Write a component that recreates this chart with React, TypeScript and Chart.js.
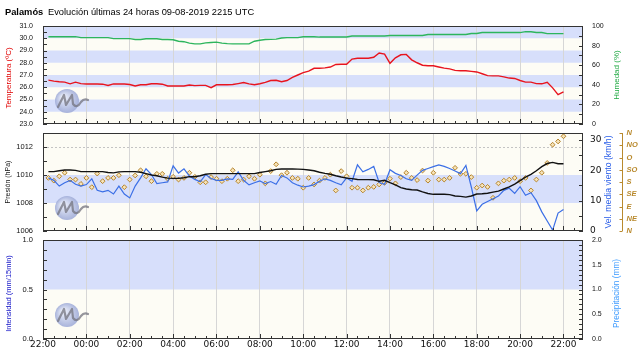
import React, { useEffect, useRef } from 'react';
import { Chart, registerables } from 'chart.js';

Chart.register(...registerables);

// ---------------- data ----------------
const START_HOUR = 22; // x = 0 -> 22:00 of the previous day
const FIRST_SAMPLE_H = 0.25; // first sample at 22:15
const SAMPLE_STEP_H = 0.25; // one sample every 15 min
const X_MAX_H = 24.9;

const headerStation = 'Palamós';
const headerText = 'Evolución últimas 24 horas 09-08-2019 2215 UTC';

const xTickHours = [0, 2, 4, 6, 8, 10, 12, 14, 16, 18, 20, 22, 24];

const temperature = [
  26.58, 26.5, 26.45, 26.42, 26.28, 26.42, 26.3, 26.27, 26.27, 26.27, 26.25, 26.15,
  26.27, 26.27, 26.27, 26.22, 26.1, 26.2, 26.2, 26.29, 26.29, 26.25, 26.1, 26.1,
  26.1, 26.1, 26.18, 26.13, 26.15, 26.15, 25.96, 26.2, 26.2, 26.2, 26.22, 26.3,
  26.39, 26.28, 26.2, 26.29, 26.4, 26.55, 26.57, 26.45, 26.55, 26.8, 27.0, 27.2,
  27.32, 27.55, 27.55, 27.58, 27.65, 27.86, 27.88, 27.88, 28.3, 28.37, 28.37, 28.37,
  28.45, 28.8, 28.7, 27.95, 28.4, 28.65, 28.68, 28.24, 28.0, 27.8, 27.75, 27.75,
  27.65, 27.56, 27.5, 27.38, 27.35, 27.35, 27.3, 27.25, 27.1, 26.95, 26.93, 26.93,
  26.85, 26.75, 26.72, 26.55, 26.42, 26.42, 26.3, 26.28, 26.4, 25.95, 25.4, 25.62,
];

const humidity = [
  89.1, 89.1, 89.1, 89.1, 89.1, 89.1, 88.1, 88.1, 88.1, 88.1, 88.1, 88.1,
  87.1, 87.1, 87.1, 87.1, 86.2, 86.2, 87.0, 87.0, 87.0, 86.2, 86.2, 86.0,
  84.5, 84.0, 82.5, 81.8, 81.8, 82.8, 83.2, 83.5, 82.5, 82.0, 81.8, 81.8,
  81.8, 81.8, 84.5, 85.5, 86.2, 86.4, 86.6, 87.8, 88.1, 88.1, 88.1, 89.0,
  89.0, 89.0, 88.7, 88.7, 88.7, 88.7, 88.7, 88.8, 89.8, 89.8, 89.8, 89.8,
  89.8, 89.8, 89.8, 90.3, 90.3, 90.3, 90.3, 90.3, 90.3, 90.3, 91.3, 91.3,
  91.3, 91.3, 91.3, 91.3, 91.3, 91.3, 92.4, 92.4, 93.3, 93.3, 93.3, 93.3,
  93.3, 93.3, 93.3, 93.3, 94.2, 94.2, 93.4, 93.4, 92.2, 92.2, 92.2, 92.2,
];

const pressure = [
  1010.24, 1010.24, 1010.3, 1010.36, 1010.36, 1010.33, 1010.24, 1010.24, 1010.24, 1010.24, 1010.24, 1010.18,
  1010.15, 1010.22, 1010.24, 1010.24, 1010.24, 1010.2, 1010.1, 1010.0, 1009.95, 1009.85, 1009.78, 1009.76,
  1009.76, 1009.8, 1009.88, 1009.88, 1009.95, 1010.05, 1010.1, 1010.1, 1010.1, 1010.1, 1010.1, 1010.1,
  1010.1, 1010.1, 1010.1, 1010.18, 1010.24, 1010.3, 1010.4, 1010.43, 1010.43, 1010.43, 1010.42, 1010.4,
  1010.36, 1010.3, 1010.2, 1010.12, 1010.05, 1009.95, 1009.86, 1009.78, 1009.74, 1009.68, 1009.67, 1009.67,
  1009.66, 1009.55, 1009.62, 1009.45, 1009.3, 1009.1, 1009.0, 1008.95, 1008.93, 1008.8, 1008.68, 1008.62,
  1008.62, 1008.62, 1008.6, 1008.5, 1008.47, 1008.42, 1008.5, 1008.64, 1008.66, 1008.7, 1008.78, 1008.85,
  1009.0, 1009.15, 1009.35, 1009.6, 1009.85, 1010.05, 1010.3, 1010.6, 1010.82, 1010.9, 1010.8, 1010.8,
];

const windSpeed = [
  17.5, 16.7, 14.8, 15.9, 16.7, 15.4, 14.8, 15.3, 17.2, 13.4, 12.9, 13.4,
  12.2, 14.8, 12.2, 10.9, 14.8, 17.5, 20.5, 18.6, 15.6, 15.9, 16.2, 21.5,
  19.1, 20.5, 18.1, 17.0, 16.2, 18.6, 17.3, 16.7, 16.7, 17.2, 17.0, 19.5,
  16.7, 15.2, 15.9, 16.5, 15.6, 16.3, 15.4, 18.3, 17.5, 15.9, 15.1, 14.5,
  14.8, 15.3, 16.4, 17.2, 16.7, 15.9, 15.2, 17.5, 16.4, 21.8, 19.5, 20.3,
  21.3, 16.0, 15.4, 20.2, 19.0, 18.3, 17.2, 16.7, 18.4, 20.0, 20.6, 21.2,
  21.8, 21.3, 20.6, 19.8, 18.9, 21.6, 14.5, 6.6, 8.8, 9.7, 10.6, 11.5,
  13.4, 14.1, 12.4, 14.6, 11.8, 12.6, 10.0, 6.3, 3.3, 0.3, 5.9, 7.1,
];

const windDirection = [
  195, 185, 201, 214, 189, 189, 173, 195, 161, 211, 183, 195,
  195, 205, 161, 189, 204, 223, 201, 183, 210, 210, 192, 199,
  189, 195, 214, 199, 179, 179, 198, 192, 183, 192, 223, 183,
  189, 201, 192, 207, 175, 220, 245, 205, 214, 195, 192, 159,
  195, 171, 185, 195, 207, 149, 220, 201, 159, 159, 149, 159,
  162, 171, 177, 192, 175, 198, 214, 195, 187, 222, 185, 214,
  189, 189, 195, 232, 210, 210, 198, 159, 167, 162, 122, 175,
  185, 189, 195, 183, 195, 149, 189, 214, 250, 317, 329, 348,
];

const rainIntensity: number[] = [];
const rainTotal: number[] = [];

const tempTicks = [23, 24, 25, 26, 27, 28, 29, 30, 31];
const humTicks = [0, 20, 40, 60, 80, 100];
const presTicks = [1006, 1008, 1010, 1012];
const windTicks = [0, 10, 20, 30];
const dirTicks = [0, 45, 90, 135, 180, 225, 270, 315, 360];
const dirNames = ['N', 'NE', 'E', 'SE', 'S', 'SO', 'O', 'NO', 'N'];
const intTicks = [0, 0.5, 1];
const precTicks = [0, 0.5, 1, 1.5, 2];

// ---------------- style ----------------
const CREAM = '#fdfcf5';
const BAND = '#d7dffb';
const GRID = '#d6d6d6';
const AXIS = '#333333';
const DIR_COLOR = '#b98a2e';
const LEFT_W = 43;
const RIGHT_W = 57;
const SANS = '"Liberation Sans", Arial, sans-serif';

const sampleTimes = temperature.map((_, i) => FIRST_SAMPLE_H + i * SAMPLE_STEP_H);
const pts = (vals: number[]) => vals.map((v, i) => ({ x: sampleTimes[i], y: v }));

function steps(a: number, b: number, s: number) {
  const out: number[] = [];
  for (let v = a; v <= b + 1e-9; v += s) out.push(Math.round(v * 1000) / 1000);
  return out;
}
const xMinor = steps(0, 24.5, 0.5);

const hourLabel = (v: number) => String((START_HOUR + v) % 24).padStart(2, '0') + ':00';

function zeroPadding(s: any) {
  s.paddingTop = 0;
  s.paddingBottom = 0;
  s.paddingLeft = 0;
  s.paddingRight = 0;
}

function xScale(showLabels: boolean) {
  return {
    type: 'linear',
    position: 'bottom',
    min: 0,
    max: X_MAX_H,
    afterBuildTicks: (s: any) => {
      s.ticks = xTickHours.map((v) => ({ value: v }));
    },
    ticks: {
      display: showLabels,
      padding: 0,
      autoSkip: false,
      maxRotation: 0,
      color: '#111',
      font: { family: '"DejaVu Sans", sans-serif', size: 9 },
      callback: (v: any) => hourLabel(Number(v)),
    },
    grid: { color: GRID, lineWidth: 1, drawTicks: false },
    border: { display: false },
    afterFit: (s: any) => {
      s.height = showLabels ? 22 : 0;
      zeroPadding(s);
    },
  };
}

function yScale(
  position: 'left' | 'right',
  min: number,
  max: number,
  labels: number[],
  fmt: (v: number) => string,
  font: any,
  padding: number,
  width?: number,
) {
  return {
    type: 'linear',
    position,
    min,
    max,
    afterBuildTicks: (s: any) => {
      s.ticks = labels.map((v) => ({ value: v }));
    },
    ticks: {
      display: labels.length > 0,
      padding,
      font,
      color: '#111',
      autoSkip: false,
      callback: (v: any) => fmt(Number(v)),
    },
    grid: { display: false, drawTicks: false },
    border: { display: false },
    afterFit: (s: any) => {
      s.width = width !== undefined ? width : position === 'left' ? LEFT_W : RIGHT_W;
      zeroPadding(s);
    },
  };
}

type Title = { text: string; x: number; color: string; font: string; dy?: number };

type PanelCfg = {
  name: string;
  leftId: string;
  rightId: string;
  bands: [number, number][];
  dashed: number[];
  leftMinor: number[];
  rightMinor: number[];
  titles: Title[];
  header?: boolean;
  direction?: boolean;
};

function drawLogo(ctx: CanvasRenderingContext2D, cx: number, cy: number) {
  ctx.save();
  const g = ctx.createRadialGradient(cx - 4, cy - 4, 1, cx, cy, 12);
  g.addColorStop(0, 'rgba(236,240,252,0.95)');
  g.addColorStop(1, 'rgba(160,172,216,0.9)');
  ctx.fillStyle = g;
  ctx.beginPath();
  ctx.arc(cx, cy, 12, 0, Math.PI * 2);
  ctx.fill();
  ctx.strokeStyle = 'rgba(115,115,125,0.75)';
  ctx.lineWidth = 2.2;
  ctx.lineJoin = 'round';
  ctx.lineCap = 'round';
  ctx.beginPath();
  ctx.moveTo(cx - 9, cy + 6);
  ctx.lineTo(cx - 3, cy - 6);
  ctx.lineTo(cx - 1, cy + 4);
  ctx.lineTo(cx + 5, cy - 6);
  ctx.lineTo(cx + 6, cy + 3);
  ctx.quadraticCurveTo(cx + 10, cy + 8, cx + 14, cy + 1);
  ctx.quadraticCurveTo(cx + 17, cy - 3, cx + 21, cy - 1);
  ctx.stroke();
  ctx.restore();
}

function vText(ctx: CanvasRenderingContext2D, t: Title, y: number) {
  ctx.save();
  ctx.translate(t.x, y + (t.dy || 0));
  ctx.rotate(-Math.PI / 2);
  ctx.font = t.font;
  ctx.fillStyle = t.color;
  ctx.textAlign = 'center';
  ctx.textBaseline = 'middle';
  ctx.fillText(t.text, 0, 0);
  ctx.restore();
}

function makePanelPlugin(cfg: PanelCfg) {
  return {
    id: 'panel_' + cfg.name,
    beforeDraw(chart: any) {
      const { ctx, chartArea: a } = chart;
      const yl = chart.scales[cfg.leftId];
      ctx.save();
      ctx.fillStyle = CREAM;
      ctx.fillRect(a.left, a.top, a.right - a.left, a.bottom - a.top);
      ctx.fillStyle = BAND;
      for (const [lo, hi] of cfg.bands) {
        const y1 = yl.getPixelForValue(hi);
        const y2 = yl.getPixelForValue(lo);
        ctx.fillRect(a.left, y1, a.right - a.left, y2 - y1);
      }
      ctx.strokeStyle = '#c4c4c4';
      ctx.lineWidth = 1;
      ctx.setLineDash([2, 2]);
      ctx.beginPath();
      for (const v of cfg.dashed) {
        const y = Math.round(yl.getPixelForValue(v)) + 0.5;
        ctx.moveTo(a.left, y);
        ctx.lineTo(a.right, y);
      }
      ctx.stroke();
      ctx.restore();
    },
    beforeDatasetsDraw(chart: any) {
      const a = chart.chartArea;
      drawLogo(chart.ctx, a.left + 24, a.top + 75);
    },
    afterDraw(chart: any) {
      const { ctx, chartArea: a, scales } = chart;
      const xs = scales.x;
      const yl = scales[cfg.leftId];
      const yr = scales[cfg.rightId];
      ctx.save();
      ctx.strokeStyle = AXIS;
      ctx.lineWidth = 1;
      ctx.strokeRect(a.left + 0.5, a.top + 0.5, a.right - a.left - 1, a.bottom - a.top - 1);
      ctx.beginPath();
      for (const v of cfg.leftMinor) {
        const y = Math.round(yl.getPixelForValue(v)) + 0.5;
        ctx.moveTo(a.left, y);
        ctx.lineTo(a.left + 4, y);
      }
      for (const v of cfg.rightMinor) {
        const y = Math.round(yr.getPixelForValue(v)) + 0.5;
        ctx.moveTo(a.right - 4, y);
        ctx.lineTo(a.right, y);
      }
      for (const t of xMinor) {
        const px = Math.round(xs.getPixelForValue(t)) + 0.5;
        if (px > a.right - 1) continue;
        const len = t % 2 === 0 ? 5 : 3;
        ctx.moveTo(px, a.bottom);
        ctx.lineTo(px, a.bottom - len);
      }
      ctx.stroke();

      const midY = (a.top + a.bottom) / 2;
      for (const t of cfg.titles) vText(ctx, t, midY);

      if (cfg.direction) {
        const yd = scales.yD;
        const bx = a.right + 39.5;
        ctx.strokeStyle = DIR_COLOR;
        ctx.lineWidth = 1;
        ctx.beginPath();
        ctx.moveTo(bx, yd.getPixelForValue(360));
        ctx.lineTo(bx, yd.getPixelForValue(0));
        for (const v of dirTicks) {
          const y = Math.round(yd.getPixelForValue(v)) + 0.5;
          ctx.moveTo(bx - 3, y);
          ctx.lineTo(bx, y);
        }
        ctx.stroke();
        ctx.fillStyle = DIR_COLOR;
        ctx.font = 'italic bold 7.5px ' + SANS;
        ctx.textAlign = 'left';
        ctx.textBaseline = 'middle';
        dirTicks.forEach((v, i) => {
          ctx.fillText(dirNames[i], bx + 4, yd.getPixelForValue(v));
        });
      }

      if (cfg.header) {
        ctx.fillStyle = '#000';
        ctx.textAlign = 'left';
        ctx.textBaseline = 'alphabetic';
        ctx.font = 'bold 9.3px ' + SANS;
        ctx.fillText(headerStation, 5, 15);
        ctx.font = '9.3px ' + SANS;
        ctx.fillText(headerText, 48, 15);
      }
      ctx.restore();
    },
  };
}

const baseOptions = (padTop: number, padBottom: number) => ({
  animation: false,
  responsive: false,
  maintainAspectRatio: false,
  layout: { padding: { top: padTop, bottom: padBottom, left: 0, right: 0 }, autoPadding: false },
  plugins: { legend: { display: false }, tooltip: { enabled: false }, title: { display: false } },
  elements: { point: { radius: 0 }, line: { tension: 0 } },
});

function tempConfig(): any {
  return {
    type: 'line',
    data: {
      datasets: [
        { label: 'Temperatura', data: pts(temperature), yAxisID: 'yT', borderColor: '#e8141e', borderWidth: 1.4, pointRadius: 0, fill: false },
        { label: 'Humedad', data: pts(humidity), yAxisID: 'yH', borderColor: '#2db55d', borderWidth: 1.4, pointRadius: 0, fill: false },
      ],
    },
    options: {
      ...baseOptions(26, 6),
      scales: {
        x: xScale(false),
        yT: yScale('left', 23, 31, tempTicks, (v) => v.toFixed(1), { family: SANS, size: 7 }, 10),
        yH: yScale('right', 0, 100, humTicks, (v) => String(v), { family: SANS, size: 7 }, 9),
      },
    },
    plugins: [
      makePanelPlugin({
        name: 'temp',
        leftId: 'yT',
        rightId: 'yH',
        bands: [[30, 31], [28, 29], [26, 27], [24, 25]],
        dashed: [],
        leftMinor: steps(23, 31, 0.5),
        rightMinor: steps(0, 100, 10),
        titles: [
          { text: 'Temperatura (ºC)', x: 8.5, color: '#e10000', font: '8px ' + SANS, dy: 3 },
          { text: 'Humedad (%)', x: 616.5, color: '#22aa44', font: '8px ' + SANS },
        ],
        header: true,
      }),
    ],
  };
}

function windConfig(): any {
  return {
    type: 'line',
    data: {
      datasets: [
        { label: 'Presión', data: pts(pressure), yAxisID: 'yP', borderColor: '#111111', borderWidth: 1.4, pointRadius: 0, fill: false },
        { label: 'Velocidad', data: pts(windSpeed), yAxisID: 'yW', borderColor: '#3b6fe6', borderWidth: 1.2, pointRadius: 0, fill: false },
        {
          label: 'Dirección',
          data: pts(windDirection),
          yAxisID: 'yD',
          showLine: false,
          pointStyle: 'rectRot',
          pointRadius: 2.4,
          pointBorderWidth: 1,
          pointBorderColor: '#b5842c',
          pointBackgroundColor: '#f6e3b8',
        },
      ],
    },
    options: {
      ...baseOptions(3, 3),
      scales: {
        x: xScale(false),
        yP: yScale('left', 1006, 1013, presTicks, (v) => String(v), { family: SANS, size: 7.5 }, 10),
        yW: yScale('right', 0, 32.3, windTicks, (v) => String(v), { family: '"DejaVu Sans", sans-serif', size: 9 }, 7),
        yD: yScale('right', 0, 360, [], () => '', { family: SANS, size: 7 }, 0, 0),
      },
    },
    plugins: [
      makePanelPlugin({
        name: 'wind',
        leftId: 'yP',
        rightId: 'yW',
        bands: [[1008, 1010]],
        dashed: [1012],
        leftMinor: steps(1006, 1013, 1),
        rightMinor: steps(0, 30, 5),
        titles: [
          { text: 'Presión (hPa)', x: 8.5, color: '#111', font: '7px ' + SANS },
          { text: 'Vel. media viento (km/h)', x: 609, color: '#2a5ee8', font: '8.7px ' + SANS },
        ],
        direction: true,
      }),
    ],
  };
}

function rainConfig(): any {
  return {
    type: 'line',
    data: {
      datasets: [
        { label: 'Intensidad', data: pts(rainIntensity), yAxisID: 'yI', borderColor: '#1a1acc', borderWidth: 1.2, pointRadius: 0 },
        { label: 'Precipitación', data: pts(rainTotal), yAxisID: 'yR', borderColor: '#3d9bff', borderWidth: 1.2, pointRadius: 0 },
      ],
    },
    options: {
      ...baseOptions(6, 0),
      scales: {
        x: xScale(true),
        yI: yScale('left', 0, 1, intTicks, (v) => v.toFixed(1), { family: SANS, size: 7.5 }, 10),
        yR: yScale('right', 0, 2, precTicks, (v) => v.toFixed(1), { family: SANS, size: 7 }, 9),
      },
    },
    plugins: [
      makePanelPlugin({
        name: 'rain',
        leftId: 'yI',
        rightId: 'yR',
        bands: [[0.5, 1]],
        dashed: [],
        leftMinor: steps(0, 1, 0.1),
        rightMinor: steps(0, 2, 0.1),
        titles: [
          { text: 'Intensidad (mm/15min)', x: 8.5, color: '#1414c8', font: '7.5px ' + SANS, dy: 4 },
          { text: 'Precipitación (mm)', x: 616.5, color: '#3d9bff', font: '8.3px ' + SANS, dy: 4 },
        ],
      }),
    ],
  };
}

const canvasStyle = (top: number, h: number): React.CSSProperties => ({
  position: 'absolute',
  left: 0,
  top,
  width: 640,
  height: h,
});

export default function App() {
  const r1 = useRef<HTMLCanvasElement>(null);
  const r2 = useRef<HTMLCanvasElement>(null);
  const r3 = useRef<HTMLCanvasElement>(null);

  useEffect(() => {
    const charts = [
      new Chart(r1.current as HTMLCanvasElement, tempConfig()),
      new Chart(r2.current as HTMLCanvasElement, windConfig()),
      new Chart(r3.current as HTMLCanvasElement, rainConfig()),
    ];
    return () => charts.forEach((c) => c.destroy());
  }, []);

  return (
    <div style={{ position: 'absolute', left: 0, top: 0, width: 640, height: 361, background: '#ffffff' }}>
      <canvas ref={r1} width={640} height={130} style={canvasStyle(0, 130)} />
      <canvas ref={r2} width={640} height={104} style={canvasStyle(130, 104)} />
      <canvas ref={r3} width={640} height={127} style={canvasStyle(234, 127)} />
    </div>
  );
}
